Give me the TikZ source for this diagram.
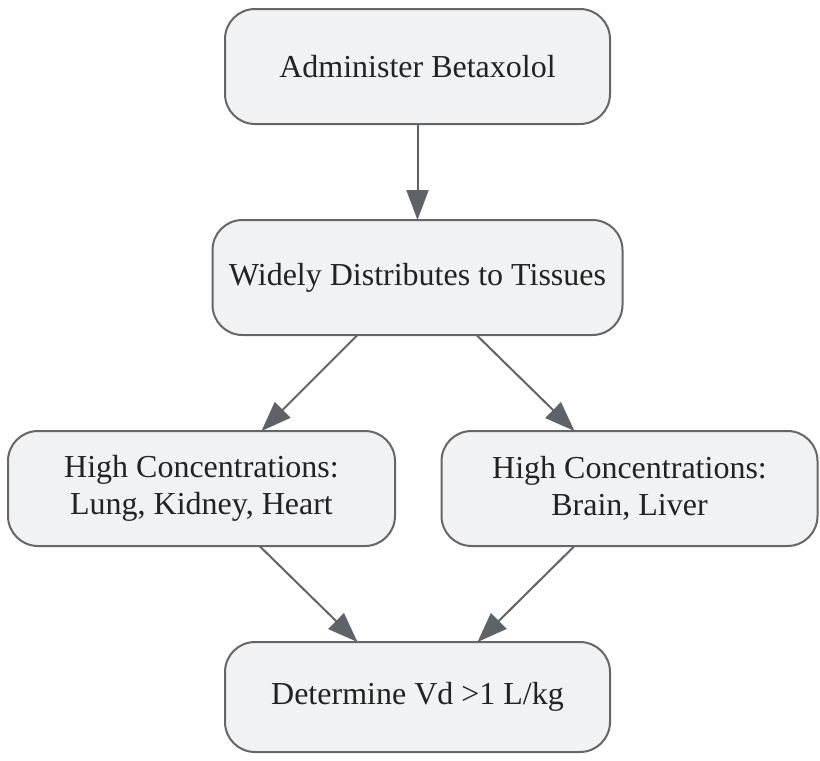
\documentclass[tikz,border=0pt]{standalone}
\usepackage{fontspec}
\setmainfont{Liberation Serif}
\usetikzlibrary{positioning, arrows.meta}
\definecolor{boxfill}{RGB}{241,242,244}
\definecolor{boxline}{RGB}{102,102,102}
\definecolor{arrowgray}{RGB}{95,99,104}
\definecolor{textgray}{RGB}{34,34,34}
\tikzset{
    every node/.style={font=\fontsize{32}{37}\selectfont, text=textgray},
    stepbox/.style={draw=boxline, fill=boxfill, line width=2pt, rounded corners=30pt, align=center, minimum height=115pt, outer sep=0pt},
    arrow/.style={-{Triangle[length=30pt, width=22pt]}, line width=2pt, draw=arrowgray},
}

\begin{document}
\begin{tikzpicture}[x=1pt, y=1pt, node distance=96pt and 0pt]
% keep the page the size of the reference
\useasboundingbox (0,0) rectangle (820,-761);

\node[stepbox, minimum width=385pt] (admin) at (417.5,-66.5) {Administer Betaxolol};
\node[stepbox, minimum width=410pt, below=of admin] (distrib) {Widely Distributes to Tissues};
\node[stepbox, minimum width=387pt, below=of distrib, xshift=-216pt] (lkh) {High Concentrations:\\Lung, Kidney, Heart};
\node[stepbox, minimum width=376pt, below=of distrib, xshift=212pt] (brliv) {High Concentrations:\\Brain, Liver};
\node[stepbox, minimum width=385pt, minimum height=110pt, below=of lkh, xshift=216pt] (vd) {Determine Vd >1 L/kg};

\draw[arrow] (admin) -- (distrib);
\draw[arrow] ([xshift=-60pt]distrib.south) -- ([xshift=60pt]lkh.north);
\draw[arrow] ([xshift=59pt]distrib.south) -- ([xshift=-55pt]brliv.north);
\draw[arrow] ([xshift=58pt]lkh.south) -- ([xshift=-60pt]vd.north);
\draw[arrow] ([xshift=-55pt]brliv.south) -- ([xshift=60pt]vd.north);

\end{tikzpicture}
\end{document}
